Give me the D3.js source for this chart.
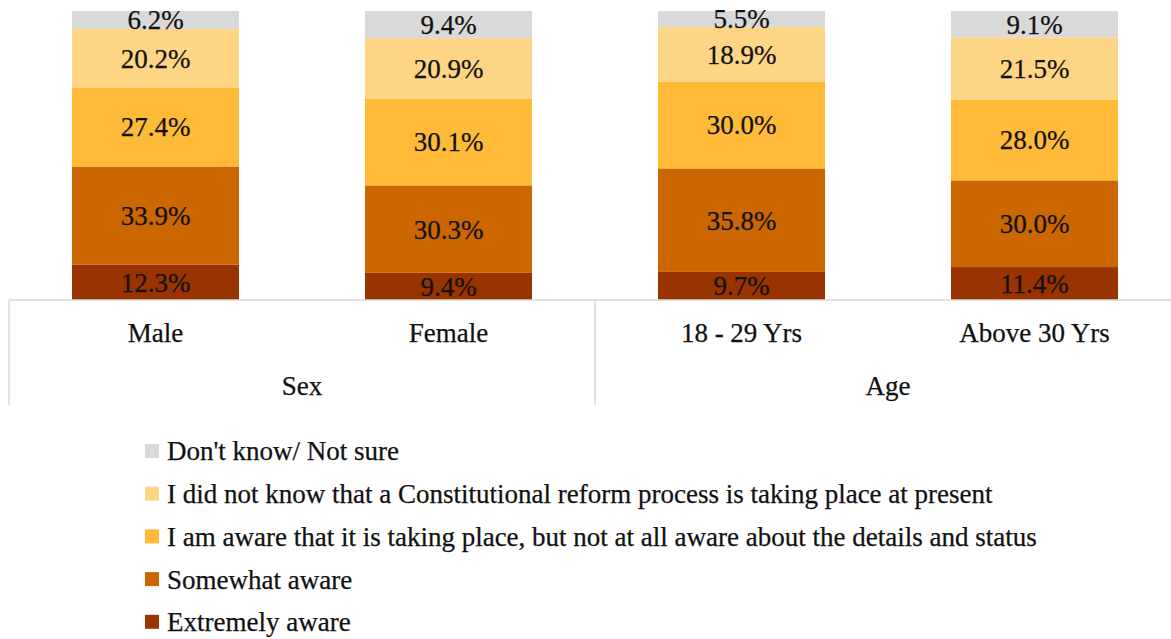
<!DOCTYPE html>
<meta charset="utf-8">
<style>
body { margin: 0; background: #fff; }
text { font-family: "Liberation Serif", "DejaVu Serif", serif; fill: #111; stroke: #111; stroke-width: 0.25px; }
</style>
<svg width="1171" height="639"></svg>
<script src="https://cdn.jsdelivr.net/npm/d3@7/dist/d3.min.js"></script>
<script>

var categories = ["Male", "Female", "18 - 29 Yrs", "Above 30 Yrs"];
var groups = [{name: "Sex", members: ["Male", "Female"]}, {name: "Age", members: ["18 - 29 Yrs", "Above 30 Yrs"]}];
var seriesNames = ["Extremely aware", "Somewhat aware",
  "I am aware that it is taking place, but not at all aware about the details and status",
  "I did not know that a Constitutional reform process is taking place at present",
  "Don't know/ Not sure"];
var extremely = [12.3, 9.4, 9.7, 11.4];
var somewhat = [33.9, 30.3, 35.8, 30.0];
var awareNoDetails = [27.4, 30.1, 30.0, 28.0];
var didNotKnow = [20.2, 20.9, 18.9, 21.5];
var dontKnow = [6.2, 9.4, 5.5, 9.1];
var colors = ["#993300", "#cc6600", "#ffbb37", "#fed584", "#d9d9d9"];

var seriesValues = [extremely, somewhat, awareNoDetails, didNotKnow, dontKnow];

var svg = d3.select("svg"),
    margin = {top: 11, left: 9, right: -10},
    plotBottom = 300,
    fontSize = "27px";

// rows for d3.stack, each category normalised to 100%
var rows = categories.map(function(c, i) {
  var r = {cat: c}, total = 0;
  seriesValues.forEach(function(s) { total += s[i]; });
  seriesValues.forEach(function(s, k) { r["s" + k] = s[i] / total * 100; r["v" + k] = s[i]; });
  return r;
});
var keys = seriesNames.map(function(d, k) { return "s" + k; });
var stacked = d3.stack().keys(keys)(rows);

var x = d3.scaleBand()
    .domain(categories)
    .range([margin.left, 1171 - margin.right])
    .paddingInner(0.43).paddingOuter(0.215);

var y = d3.scaleLinear()
    .domain([0, 100])
    .range([plotBottom, margin.top]);

var layer = svg.selectAll("g.layer")
  .data(stacked)
  .enter().append("g")
    .attr("class", "layer")
    .attr("fill", function(d, k) { return colors[k]; });

layer.selectAll("rect")
  .data(function(d) { return d; })
  .enter().append("rect")
    .attr("x", function(d) { return x(d.data.cat); })
    .attr("y", function(d) { return y(d[1]); })
    .attr("width", x.bandwidth())
    .attr("height", function(d) { return y(d[0]) - y(d[1]); });

layer.selectAll("text")
  .data(function(d) { return d.map(function(p) { p.key = d.key; return p; }); })
  .enter().append("text")
    .attr("x", function(d) { return x(d.data.cat) + x.bandwidth() / 2; })
    .attr("y", function(d) { return (y(d[0]) + y(d[1])) / 2; })
    .attr("dy", "0.35em")
    .attr("text-anchor", "middle")
    .style("font-size", fontSize)
    .text(function(d) { return d.data["v" + d.key.slice(1)].toFixed(1) + "%"; });

// category axis with group boxes
var step = x.step();
var axisLeft = margin.left, axisRight = margin.left + step * categories.length;
var axis = svg.append("g").attr("class", "axis");
axis.append("line")
    .attr("x1", axisLeft).attr("x2", axisRight)
    .attr("y1", plotBottom).attr("y2", plotBottom)
    .attr("stroke", "#d9d9d9").attr("stroke-width", 1.5);

var bounds = [0, 2, 4];
axis.selectAll("line.sep")
  .data(bounds)
  .enter().append("line")
    .attr("class", "sep")
    .attr("x1", function(b) { return axisLeft + b * step; })
    .attr("x2", function(b) { return axisLeft + b * step; })
    .attr("y1", plotBottom).attr("y2", 405)
    .attr("stroke", "#d9d9d9").attr("stroke-width", 1.5);

axis.selectAll("text.cat")
  .data(categories)
  .enter().append("text")
    .attr("class", "cat")
    .attr("x", function(d) { return x(d) + x.bandwidth() / 2; })
    .attr("y", 333)
    .attr("dy", "0.35em")
    .attr("text-anchor", "middle")
    .style("font-size", fontSize)
    .text(function(d) { return d; });

axis.selectAll("text.grp")
  .data(groups)
  .enter().append("text")
    .attr("class", "grp")
    .attr("x", function(g) {
      var a = x(g.members[0]), b = x(g.members[g.members.length - 1]) + x.bandwidth();
      return (a + b) / 2;
    })
    .attr("y", 386)
    .attr("dy", "0.35em")
    .attr("text-anchor", "middle")
    .style("font-size", fontSize)
    .text(function(g) { return g.name; });

// legend, top entry is the last series
var legendOrder = seriesNames.map(function(d, k) { return k; }).reverse();
var legend = svg.append("g").attr("transform", "translate(145,451)");
var item = legend.selectAll("g")
  .data(legendOrder)
  .enter().append("g")
    .attr("transform", function(k, i) { return "translate(0," + (i * 42.7) + ")"; });
item.append("rect")
    .attr("x", 0).attr("y", -7)
    .attr("width", 14).attr("height", 14)
    .attr("fill", function(k) { return colors[k]; });
item.append("text")
    .attr("x", 22)
    .attr("dy", "0.35em")
    .style("font-size", fontSize)
    .text(function(k) { return seriesNames[k]; });

</script>
